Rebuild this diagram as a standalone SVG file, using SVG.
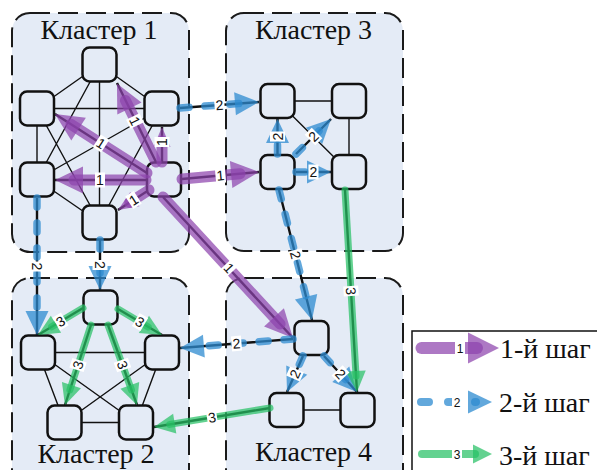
<svg xmlns="http://www.w3.org/2000/svg" width="597" height="470" viewBox="0 0 597 470">
<defs>
<style>
.cl{fill:#e4ebf6;stroke:#1a1a1a;stroke-width:2;stroke-dasharray:20 8}
.nd{fill:#e4ebf6;stroke:#111;stroke-width:2.5}
.pl{stroke:#111;stroke-width:1.4;fill:none}
.bk{stroke:#111;stroke-width:2.4;fill:none}
.s1{stroke:#8e44ad;stroke-opacity:.72;stroke-width:11;stroke-linecap:round;fill:none;marker-end:url(#m1)}
.s1s{stroke:#8e44ad;stroke-opacity:.72;stroke-width:11;stroke-linecap:round;fill:none;marker-end:url(#m1s)}
.s2{stroke:#2e8bd0;stroke-opacity:.75;stroke-width:7.5;stroke-linecap:round;stroke-dasharray:9 16;fill:none;marker-end:url(#m2)}
.s3{stroke:#27c065;stroke-opacity:.72;stroke-width:7;stroke-linecap:round;fill:none;marker-end:url(#m3)}
.f1{fill:#8e44ad;fill-opacity:.72}
.f2{fill:#2e8bd0;fill-opacity:.75}
.f3{fill:#27c065;fill-opacity:.72}
.lb rect{fill:#fff}
.ll rect{fill:#fff}
</style>
<marker id="m1" markerUnits="userSpaceOnUse" orient="auto" viewBox="-20 -20 40 40" markerWidth="40" markerHeight="40" refX="0" refY="0"><path class="f1" d="M-9,-13.5 L19,0 L-9,13.5 Z"/></marker>
<marker id="m1s" markerUnits="userSpaceOnUse" orient="auto" viewBox="-20 -20 40 40" markerWidth="40" markerHeight="40" refX="0" refY="0"><path class="f1" d="M-6,-8.5 L14,0 L-6,8.5 Z"/></marker>
<marker id="m2" markerUnits="userSpaceOnUse" orient="auto" viewBox="-20 -20 40 40" markerWidth="40" markerHeight="40" refX="0" refY="0"><path class="f2" d="M-7,-11.5 L17,0 L-7,11.5 Z"/></marker>
<marker id="m3" markerUnits="userSpaceOnUse" orient="auto" viewBox="-20 -20 40 40" markerWidth="40" markerHeight="40" refX="0" refY="0"><path class="f3" d="M-5,-10 L16,0 L-5,10 Z"/></marker>
</defs>
<rect width="597" height="470" fill="#fff"/>

<g font-family="Liberation Serif, DejaVu Serif, serif" font-size="28" fill="#111" text-anchor="middle">
<g id="cluster1"><rect class="cl" x="12" y="13" width="177" height="239" rx="18"/><text x="99" y="39">Кластер 1</text></g>
<g id="cluster3"><rect class="cl" x="226" y="13" width="177" height="238" rx="18"/><text x="313.5" y="39">Кластер 3</text></g>
<g id="cluster2"><rect class="cl" x="12" y="278" width="177" height="215" rx="18"/><text x="96" y="463">Кластер 2</text></g>
<g id="cluster4"><rect class="cl" x="226" y="278" width="177" height="215" rx="18"/><text x="313.5" y="461">Кластер 4</text></g>
</g>

<g id="plain-edges">
<path class="pl" d="M99.5,64.5 L37,108.5 M99.5,64.5 L161.5,108.5 M99.5,64.5 L37,179.5 M99.5,64.5 L99.5,222.5 M37,108.5 L161.5,108.5 M37,108.5 L37,179.5 M37,108.5 L99.5,222.5 M161.5,108.5 L37,179.5 M161.5,108.5 L99.5,222.5 M37,179.5 L99.5,222.5"/>
<path class="pl" d="M38,352.5 L162,352.5 M38,352.5 L64.5,422.5 M38,352.5 L136,422.5 M162,352.5 L64.5,422.5 M162,352.5 L136,422.5 M64.5,422.5 L136,422.5"/>
<path class="pl" d="M277.5,101 L349,101 M349,101 L349,172 M277.5,101 L349,172"/>
<path class="pl" d="M286.5,410 L357.5,410"/>
</g>

<g id="connectors">
<path class="bk" d="M146,180 L55,180 M147,173 L55,114 M156,162 L117,83 M162,162 L162,127 M149,190 L118,210 M182,179 L259,172 M163,197 L293,338"/>
<path class="bk" d="M180,108 L259,102 M37,198 L37,335 M100,240 L100,290 M277.5,154 L277.5,119 M296,154 L331,119 M296,172 L331,172 M279,190 L312,320 M293,339 L180,348 M303,356 L287,392 M324,356 L357,392"/>
<path class="bk" d="M345,190 L357,392 M83,308 L38,335 M118,309 L162,335 M91,325 L65,405 M108,325 L137,405 M270,408 L154,427"/>
</g>

<g id="n-c1-top"><rect class="nd" x="82.5" y="47.5" width="34" height="34" rx="7"/></g>
<g id="n-c1-ul"><rect class="nd" x="20" y="91.5" width="34" height="34" rx="7"/></g>
<g id="n-c1-ur"><rect class="nd" x="144.5" y="91.5" width="34" height="34" rx="7"/></g>
<g id="n-c1-ll"><rect class="nd" x="20" y="162.5" width="34" height="34" rx="7"/></g>
<g id="n-c1-hub"><rect class="nd" x="147" y="162.5" width="34" height="34" rx="7"/></g>
<g id="n-c1-bot"><rect class="nd" x="82.5" y="205.5" width="34" height="34" rx="7"/></g>
<g id="n-c2-top"><rect class="nd" x="83.5" y="290.5" width="34" height="34" rx="7"/></g>
<g id="n-c2-l"><rect class="nd" x="21" y="335.5" width="34" height="34" rx="7"/></g>
<g id="n-c2-r"><rect class="nd" x="145" y="335.5" width="34" height="34" rx="7"/></g>
<g id="n-c2-bl"><rect class="nd" x="47.5" y="405.5" width="34" height="34" rx="7"/></g>
<g id="n-c2-br"><rect class="nd" x="119" y="405.5" width="34" height="34" rx="7"/></g>
<g id="n-c3-tl"><rect class="nd" x="260.5" y="84" width="34" height="34" rx="7"/></g>
<g id="n-c3-tr"><rect class="nd" x="332" y="84" width="34" height="34" rx="7"/></g>
<g id="n-c3-bl"><rect class="nd" x="260.5" y="155" width="34" height="34" rx="7"/></g>
<g id="n-c3-br"><rect class="nd" x="332" y="155" width="34" height="34" rx="7"/></g>
<g id="n-c4-top"><rect class="nd" x="294.5" y="321" width="34" height="34" rx="7"/></g>
<g id="n-c4-bl"><rect class="nd" x="269.5" y="393" width="34" height="34" rx="7"/></g>
<g id="n-c4-br"><rect class="nd" x="340.5" y="393" width="34" height="34" rx="7"/></g>

<g id="connectors-steps">
<path class="s1" d="M146,180 L74,180"/>
<path class="s1" d="M147,173 L71,124.3"/>
<path class="s1" d="M156,162 L125.4,100.4"/>
<path class="s1s" d="M162,162 L162,141"/>
<path class="s1s" d="M149,190 L129.8,202.4"/>
<path class="s1" d="M182,179 L240.1,173.7"/>
<path class="s1" d="M163,197 L280.1,324"/>
<path class="s2" d="M180,108 L242,103.3"/>
<path class="s2" d="M37,198 L37,318"/>
<path class="s2" d="M100,240 L100,273"/>
<path class="s2" d="M277.5,154 L277.5,136"/>
<path class="s2" d="M296,154 L319,131"/>
<path class="s2" d="M296,172 L314,172"/>
<path class="s2" d="M279,190 L307.8,303.5"/>
<path class="s2" d="M293,339 L196.9,346.7"/>
<path class="s2" d="M303,356 L293.9,376.5"/>
<path class="s2" d="M324,356 L345.5,379.5"/>
<path class="s3" d="M345,190 L356.05,376"/>
<path class="s3" d="M83,308 L51.7,326.8"/>
<path class="s3" d="M118,309 L148.2,326.9"/>
<path class="s3" d="M91,325 L69.9,389.8"/>
<path class="s3" d="M108,325 L131.5,390"/>
<path class="s3" d="M270,408 L169.8,424.4"/>
</g>

<g id="edge-labels" class="lb" font-family="Liberation Sans, Arial, sans-serif" font-size="14" text-anchor="middle" fill="#111">
<g transform="translate(100,180)"><rect x="-5" y="-7.5" width="10" height="15"/><text y="5">1</text></g>
<g transform="translate(101,143.5) rotate(32.7)"><rect x="-5" y="-7.5" width="10" height="15"/><text y="5">1</text></g>
<g transform="translate(135,121) rotate(63.6)"><rect x="-5" y="-7.5" width="10" height="15"/><text y="5">1</text></g>
<g transform="translate(162,142) rotate(-90)"><rect x="-5" y="-7.5" width="10" height="15"/><text y="5">1</text></g>
<g transform="translate(133.5,200) rotate(-32.8)"><rect x="-5" y="-7.5" width="10" height="15"/><text y="5">1</text></g>
<g transform="translate(220.5,175.5) rotate(-5.2)"><rect x="-5" y="-7.5" width="10" height="15"/><text y="5">1</text></g>
<g transform="translate(229,268) rotate(47.3)"><rect x="-5" y="-7.5" width="10" height="15"/><text y="5">1</text></g>
<g transform="translate(219.5,105) rotate(-4.3)"><rect x="-5" y="-7.5" width="10" height="15"/><text y="5">2</text></g>
<g transform="translate(37,266.5) rotate(90)"><rect x="-5" y="-7.5" width="10" height="15"/><text y="5">2</text></g>
<g transform="translate(100,265) rotate(90)"><rect x="-5" y="-7.5" width="10" height="15"/><text y="5">2</text></g>
<g transform="translate(277.5,136.5) rotate(-90)"><rect x="-5" y="-7.5" width="10" height="15"/><text y="5">2</text></g>
<g transform="translate(313.5,136.5) rotate(-45)"><rect x="-5" y="-7.5" width="10" height="15"/><text y="5">2</text></g>
<g transform="translate(313.5,172)"><rect x="-5" y="-7.5" width="10" height="15"/><text y="5">2</text></g>
<g transform="translate(295.5,255) rotate(75.8)"><rect x="-5" y="-7.5" width="10" height="15"/><text y="5">2</text></g>
<g transform="translate(236.5,343.5) rotate(-4.6)"><rect x="-5" y="-7.5" width="10" height="15"/><text y="5">2</text></g>
<g transform="translate(295,374) rotate(-66)"><rect x="-5" y="-7.5" width="10" height="15"/><text y="5">2</text></g>
<g transform="translate(340.5,374) rotate(47.5)"><rect x="-5" y="-7.5" width="10" height="15"/><text y="5">2</text></g>
<g transform="translate(351,291) rotate(86.6)"><rect x="-5" y="-7.5" width="10" height="15"/><text y="5">3</text></g>
<g transform="translate(60.5,321.5) rotate(-31)"><rect x="-5" y="-7.5" width="10" height="15"/><text y="5">3</text></g>
<g transform="translate(140,322) rotate(30.6)"><rect x="-5" y="-7.5" width="10" height="15"/><text y="5">3</text></g>
<g transform="translate(78,365) rotate(-72)"><rect x="-5" y="-7.5" width="10" height="15"/><text y="5">3</text></g>
<g transform="translate(122.5,365) rotate(70)"><rect x="-5" y="-7.5" width="10" height="15"/><text y="5">3</text></g>
<g transform="translate(212,417.5) rotate(-9.3)"><rect x="-5" y="-7.5" width="10" height="15"/><text y="5">3</text></g>
</g>

<g id="legend">
<rect x="412" y="331" width="200" height="150" fill="#fff" stroke="#111" stroke-width="1.5"/>
<path d="M421.5,348 H477" stroke="#8e44ad" stroke-opacity=".72" stroke-width="12" stroke-linecap="round" fill="none"/>
<polygon class="f1" points="468,332.5 499,348 468,363.5"/>
<path d="M421,402 H476" stroke="#2e8bd0" stroke-opacity=".75" stroke-width="8" stroke-linecap="round" stroke-dasharray="8 19" fill="none"/>
<polygon class="f2" points="468,390.5 492,402 468,413.5"/>
<path d="M422,454 H475" stroke="#27c065" stroke-opacity=".72" stroke-width="8" stroke-linecap="round" fill="none"/>
<polygon class="f3" points="473,444.5 492,454 473,463.5"/>
<g class="ll" font-family="Liberation Sans, Arial, sans-serif" font-size="12" text-anchor="middle" fill="#111">
<g transform="translate(460,348)"><rect x="-5" y="-7" width="10" height="14"/><text y="4.5">1</text></g>
<g transform="translate(457,402)"><rect x="-5" y="-7" width="10" height="14"/><text y="4.5">2</text></g>
<g transform="translate(457,454)"><rect x="-5" y="-7" width="10" height="14"/><text y="4.5">3</text></g>
</g>
<g font-family="Liberation Serif, DejaVu Serif, serif" font-size="28" fill="#111">
<text x="500" y="358">1-й шаг</text>
<text x="499" y="412">2-й шаг</text>
<text x="499" y="465">3-й шаг</text>
</g>
</g>
</svg>
